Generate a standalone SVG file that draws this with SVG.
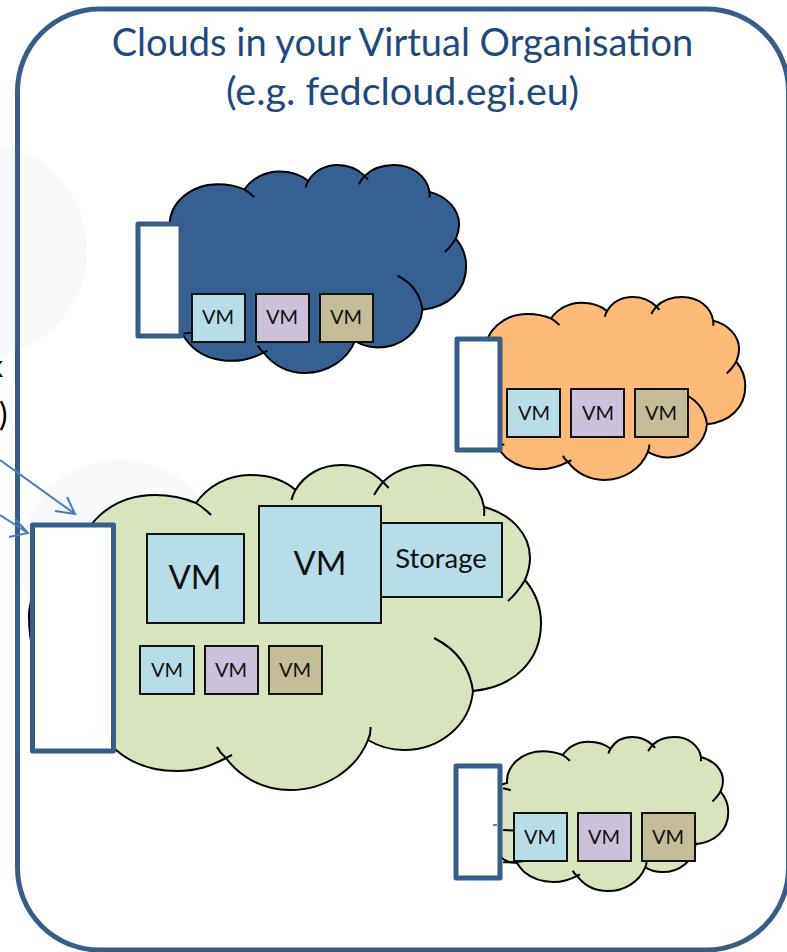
<svg xmlns="http://www.w3.org/2000/svg" xmlns:xlink="http://www.w3.org/1999/xlink" width="787" height="952" viewBox="0 0 787 952">
<style>
.t{font-family:"Lato","Open Sans","Liberation Sans",sans-serif;text-anchor:middle}
.title{font-size:38px;fill:#1f497d}
.vm{font-size:20px;fill:#111}
.big{font-size:33px;fill:#111}
.store{font-size:27.5px;fill:#111}
.box{stroke:#111;stroke-width:2}
.blue{fill:#b7dde8}.lil{fill:#ccc1da}.tan{fill:#c4bd97}
.gate{fill:#fff;stroke:#385d8a;stroke-width:5;stroke-linejoin:round}
.outline{stroke:#000;stroke-width:2;vector-effect:non-scaling-stroke}
.detail{fill:none;stroke:#000;stroke-width:2;vector-effect:non-scaling-stroke}
.arrow{fill:none;stroke:#4a7ebb;stroke-width:2}
</style>
<defs>
<g id="cloud">
<path class="outline" d="M80 562C78 525 112 495 155 495C170 495 184 498 196 503C208 486 228 475 250 475C268 475 284 480 295.500 490C305 474 322 465 341 465C357 465 372 471 383 482C394 471 410 465 429 465C458 465 480 483 484 507C511 514 530 534 530 558C530 566 528 573 525 580C535 592 541 607 541 623C541 660 515 687 473 691C470 725 440 750 404 750C391 750 378 746 368 740C356 770 325 790 290 790C263 790 240 777 226 758C211 766 197 771 177 771C152 771 131 763 116 750C110 744 104 737 100 730C60 735 29 670 29 617C29 590 45 570 80 562Z"/>
<path class="detail" d="M196 503Q204 508 211 515M295.500 490Q292.500 495 291.500 500M374 495Q378 488 383 482Q386 485 388.500 488M484 507Q484.500 511 484 516M525 580Q518 592 508 601M434 638Q468 655 473 691M370.500 727Q371 734 368 740M226 758L232 755M226 758Q220 753 217 747M72 661L92.500 662M72 573L88 577M72 729Q92 730 113 727"/>
</g>
</defs>
<g id="backdrop">
<circle cx="-20" cy="250" r="107" fill="#f7f9fb"/>
<circle cx="120" cy="560" r="100" fill="#f7f9fb"/>
</g>
<g id="frame">
<rect x="17.500" y="9" width="771" height="941" rx="82" fill="none" stroke="#385d8a" stroke-width="5"/>
<text class="t title" x="402.500" y="56">Clouds in your Virtual Organisation</text>
<text class="t title" style="font-size:39.500px" x="402.500" y="105">(e.g. fedcloud.egi.eu)</text>
</g>
<g id="side-text">
<text x="-12" y="377" font-family="Lato,sans-serif" font-size="30" fill="#000">k</text>
<text x="-1" y="426" font-family="Lato,sans-serif" font-size="32" fill="#000">)</text>
</g>
<g id="cloud-blue" fill="#376092">
<use xlink:href="#cloud" href="#cloud" transform="translate(118.300 -132.600) scale(.643 .64)"/>
<rect class="gate" x="138" y="224" width="43" height="112"/>
<rect class="box blue" x="192" y="294" width="53" height="48"/><text class="t vm" x="218" y="324">VM</text>
<rect class="box lil" x="256" y="294" width="53" height="48"/><text class="t vm" x="282" y="324">VM</text>
<rect class="box tan" x="320" y="294" width="53" height="48"/><text class="t vm" x="346" y="324">VM</text>
</g>
<g id="cloud-orange" fill="#fcba79">
<use xlink:href="#cloud" href="#cloud" transform="translate(440.700 35.200) scale(.563)"/>
<rect class="gate" x="457" y="339" width="43" height="111"/>
<rect class="box blue" x="507" y="389" width="53" height="48"/><text class="t vm" x="534" y="420">VM</text>
<rect class="box lil" x="571" y="389" width="53" height="48"/><text class="t vm" x="598" y="420">VM</text>
<rect class="box tan" x="635" y="389" width="53" height="48"/><text class="t vm" x="661" y="420">VM</text>
</g>
<g id="cloud-large" fill="#d7e4bd">
<use xlink:href="#cloud" href="#cloud"/>
<rect class="gate" x="32.500" y="525" width="81" height="226"/>
<rect class="box blue" x="147" y="534" width="97" height="89"/><text class="t big" x="195" y="589">VM</text>
<rect class="box blue" x="381" y="523" width="121" height="74"/><text class="t store" x="441" y="568">Storage</text>
<rect class="box blue" x="259" y="506" width="122" height="117"/><text class="t big" x="320" y="575">VM</text>
<rect class="box blue" x="140" y="646" width="54" height="48"/><text class="t vm" x="167" y="677">VM</text>
<rect class="box lil" x="205" y="646" width="53" height="48"/><text class="t vm" x="231" y="677">VM</text>
<rect class="box tan" x="269" y="646" width="53" height="48"/><text class="t vm" x="295" y="677">VM</text>
</g>
<g id="cloud-small" fill="#d7e4bd">
<use xlink:href="#cloud" href="#cloud" transform="translate(468.600 516.600) scale(.48 .474)"/>
<rect class="gate" x="456" y="766" width="44" height="112"/>
<path d="M493 825H497" stroke="#000" stroke-width="1"/>
<rect class="box blue" x="514" y="813" width="53" height="48"/><text class="t vm" x="540" y="844">VM</text>
<rect class="box lil" x="578" y="813" width="53" height="48"/><text class="t vm" x="604" y="844">VM</text>
<rect class="box tan" x="642" y="813" width="53" height="48"/><text class="t vm" x="668" y="844">VM</text>
</g>
<g id="connectors">
<path class="arrow" d="M0 460L75 514M67 497L75 514L55 511"/>
<path class="arrow" d="M0 515L28 533M15 519L28 533L9 537"/>
</g>
</svg>
